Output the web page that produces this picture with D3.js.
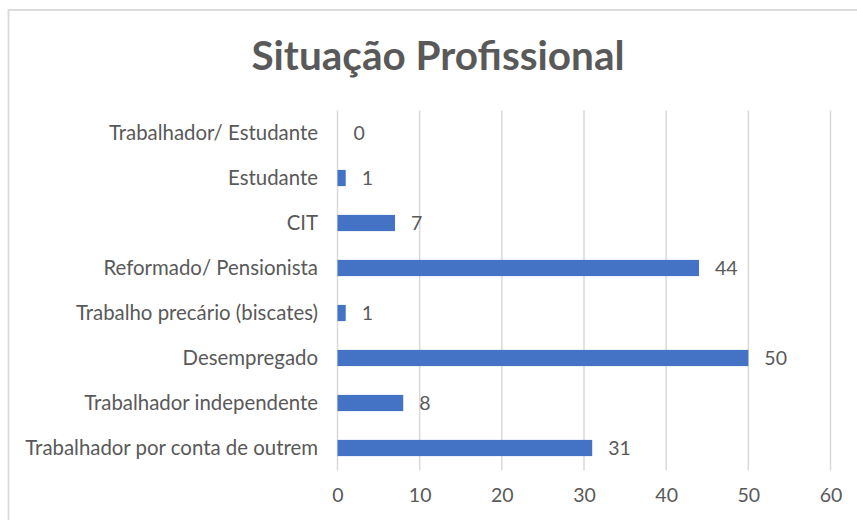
<!DOCTYPE html>
<html>
<head>
<meta charset="utf-8">
<script src="https://cdn.jsdelivr.net/npm/d3@7"></script>
<style>
  body { margin: 0; background: #fff; }
  text { font-family: Lato, "Open Sans", sans-serif; fill: #595959; }
</style>
</head>
<body>
<svg id="chart" width="857" height="520"></svg>
<script>
// data
const categories = [
    "Trabalhador/ Estudante",
    "Estudante",
    "CIT",
    "Reformado/ Pensionista",
    "Trabalho precário (biscates)",
    "Desempregado",
    "Trabalhador independente",
    "Trabalhador por conta de outrem"
];
const values = [0, 1, 7, 44, 1, 50, 8, 31];
const xTicks = [0, 10, 20, 30, 40, 50, 60];
const title = "Situação Profissional";

const svg = d3.select("#chart");

// chart frame (light border like the Excel chart area)
svg.append("rect")
    .attr("x", 8.5).attr("y", 10)
    .attr("width", 900).attr("height", 600)
    .attr("fill", "none")
    .attr("stroke", "#d9d9d9")
    .attr("stroke-width", 1.8);

svg.append("text")
    .attr("x", 438).attr("y", 70)
    .attr("text-anchor", "middle")
    .style("font-size", "40.5px")
    .style("font-weight", "bold")
    .text(title);

const margin = { top: 110.5, left: 337.5 };

const x = d3.scaleLinear().domain([0, 60]).range([0, 493]);
const y = d3.scaleBand().domain(categories).range([0, 360]).paddingInner(0.64).paddingOuter(0.32);

const g = svg.append("g").attr("transform", `translate(${margin.left},${margin.top})`);

// vertical gridlines
g.selectAll(".grid")
    .data(xTicks)
    .enter()
    .append("line")
    .attr("x1", d => x(d)).attr("x2", d => x(d))
    .attr("y1", 0).attr("y2", 360)
    .attr("stroke", "#d9d9d9")
    .attr("stroke-width", 1.5);

// x tick labels
const xAxis = g.append("g")
    .attr("transform", "translate(0,360)")
    .call(d3.axisBottom(x).tickValues(xTicks).tickSize(0).tickPadding(18));
xAxis.select(".domain").remove();
xAxis.selectAll("text").style("font-size", "19.5px").attr("fill", "#595959")
    .style("font-family", "Lato, sans-serif");

// category labels
const yAxis = g.append("g")
    .call(d3.axisLeft(y).tickSize(0).tickPadding(19.5));
yAxis.select(".domain").remove();
yAxis.selectAll("text").style("font-size", "20.4px").attr("fill", "#595959")
    .style("font-family", "Lato, sans-serif");

// bars
g.selectAll(".bar")
    .data(values)
    .enter()
    .append("rect")
    .attr("class", "bar")
    .attr("x", 0)
    .attr("y", (d, i) => y(categories[i]))
    .attr("width", d => x(d))
    .attr("height", y.bandwidth())
    .attr("fill", "#4472c4");

// value labels
g.selectAll(".val")
    .data(values)
    .enter()
    .append("text")
    .attr("class", "val")
    .attr("x", d => x(d) + 16)
    .attr("y", (d, i) => y(categories[i]) + y.bandwidth() / 2)
    .attr("dy", "0.38em")
    .style("font-size", "19.5px")
    .text(d => d);
</script>
</body>
</html>
